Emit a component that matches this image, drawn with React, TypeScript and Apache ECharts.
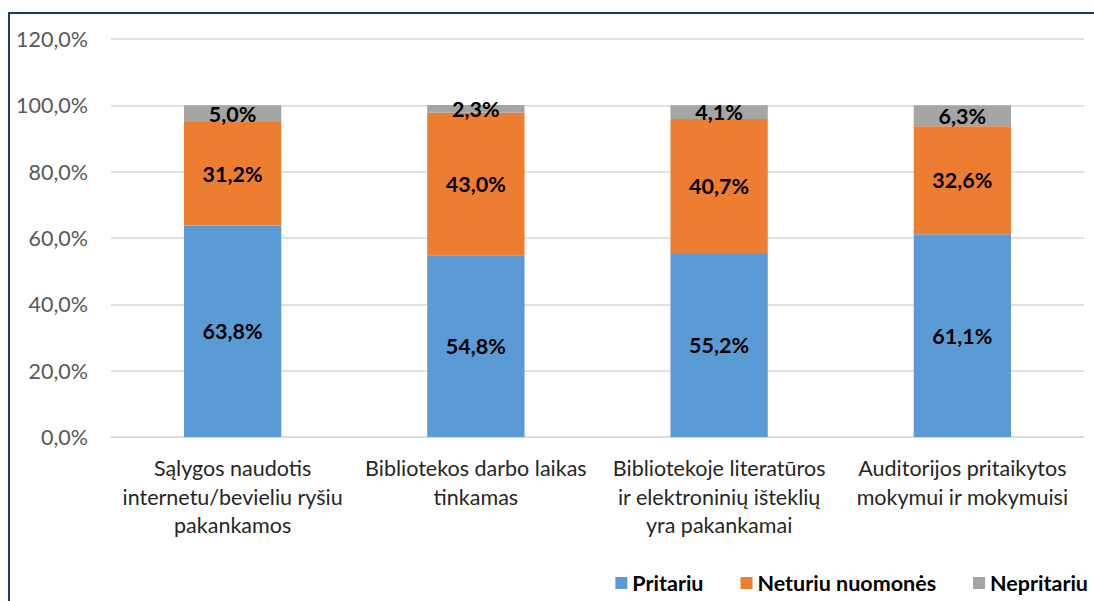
import React, { useEffect, useRef } from "react";
import * as echarts from "echarts";

const categories = [
  "Sąlygos naudotis\ninternetu/bevieliu ryšiu\npakankamos",
  "Bibliotekos darbo laikas\ntinkamas",
  "Bibliotekoje literatūros\nir elektroninių išteklių\nyra pakankamai",
  "Auditorijos pritaikytos\nmokymui ir mokymuisi",
];
const pritariu = [63.8, 54.8, 55.2, 61.1];
const neturiu = [31.2, 43.0, 40.7, 32.6];
const nepritariu = [5.0, 2.3, 4.1, 6.3];
const seriesNames = ["Pritariu", "Neturiu nuomonės", "Nepritariu"];
const colors = ["#5B9BD5", "#ED7D31", "#A5A5A5"];

const FONT = "Lato";
const FS = 21.5;
const fmt = (v: number) => v.toFixed(1).replace(".", ",") + "%";

export default function App() {
  const ref = useRef<HTMLDivElement>(null);
  useEffect(() => {
    document.body.style.margin = "0";
    const chart = echarts.init(ref.current!, undefined, { renderer: "svg" });
    const mk = (name: string, data: number[], color: string) => ({
      name,
      type: "bar",
      stack: "total",
      data,
      barWidth: "40%",
      itemStyle: { color },
      label: {
        show: true,
        position: "inside",
        formatter: (p: any) => fmt(p.value),
        color: "#000",
        fontWeight: "bold",
        fontSize: FS,
        fontFamily: FONT,
      },
    });
    chart.setOption({
      animation: false,
      backgroundColor: "#fff",
      textStyle: { fontFamily: FONT },
      graphic: [
        {
          type: "rect",
          shape: { x: 9, y: 13, width: 1200, height: 700 },
          style: { fill: "none", stroke: "#1F3B70", lineWidth: 2 },
          silent: true,
        },
      ],
      grid: { left: 111, right: 10, top: 39, bottom: 164 },
      legend: {
        right: 1,
        top: 567,
        icon: "rect",
        itemWidth: 12,
        itemHeight: 12,
        itemGap: 37,
        textStyle: { fontSize: FS, fontWeight: "bold", color: "#000", fontFamily: FONT },
        data: seriesNames,
      },
      xAxis: {
        type: "category",
        data: categories,
        axisLine: { lineStyle: { color: "#D9D9D9", width: 1.5 } },
        axisTick: { show: false },
        axisLabel: {
          interval: 0,
          fontSize: FS,
          lineHeight: 28.5,
          color: "#262626",
          margin: 17,
          fontFamily: FONT,
        },
      },
      yAxis: {
        type: "value",
        min: 0,
        max: 120,
        interval: 20,
        axisLabel: {
          formatter: (v: number) => fmt(v),
          fontSize: FS,
          color: "#595959",
          margin: 23,
          fontFamily: FONT,
        },
        splitLine: { lineStyle: { color: "#D9D9D9", width: 1.5 } },
        axisLine: { show: false },
        axisTick: { show: false },
      },
      series: [
        mk(seriesNames[0], pritariu, colors[0]),
        mk(seriesNames[1], neturiu, colors[1]),
        mk(seriesNames[2], nepritariu, colors[2]),
      ],
    });
    return () => chart.dispose();
  }, []);
  return <div ref={ref} style={{ width: 1094, height: 601 }} />;
}
